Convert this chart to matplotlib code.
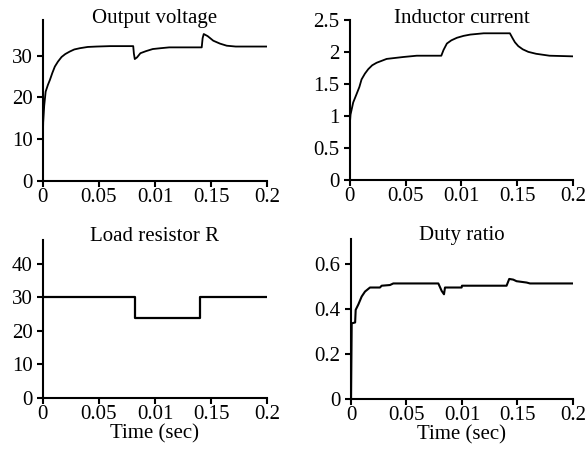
import matplotlib
matplotlib.use("Agg")
import matplotlib.pyplot as plt

plt.rcParams["font.family"] = ["Liberation Serif", "DejaVu Serif"]
plt.rcParams["font.size"] = 15

# x axis ticks (labels as printed in the original, typo included)
x_ticks = [0, 0.05, 0.1, 0.15, 0.2]
x_tick_labels = ["0", "0.05", "0.01", "0.15", "0.2"]

# Output voltage
t_v = [0.0, 0.0003, 0.0012, 0.0025, 0.0045, 0.0063, 0.0085, 0.0107, 0.0135, 0.0167,
       0.020, 0.024, 0.028, 0.033, 0.040, 0.048, 0.060, 0.0806, 0.0812, 0.082,
       0.084, 0.087, 0.092, 0.098, 0.105, 0.1127, 0.125, 0.1417, 0.1425, 0.1435,
       0.147, 0.152, 0.158, 0.164, 0.172, 0.185, 0.2]
v_out = [10.0, 14.0, 18.0, 21.4, 23.0, 24.2, 25.9, 27.4, 28.6, 29.7,
         30.4, 31.0, 31.5, 31.8, 32.1, 32.2, 32.3, 32.3, 30.5, 29.2,
         29.6, 30.6, 31.1, 31.6, 31.8, 32.0, 32.0, 32.0, 34.2, 35.2,
         34.7, 33.6, 32.9, 32.4, 32.2, 32.2, 32.2]

# Inductor current
t_i = [0.0, 0.0006, 0.003, 0.006, 0.0085, 0.0105, 0.0135, 0.0165, 0.020, 0.024,
       0.033, 0.048, 0.060, 0.082, 0.084, 0.087, 0.091, 0.096, 0.102, 0.108,
       0.120, 0.1435, 0.146, 0.148, 0.151, 0.155, 0.160, 0.167, 0.179, 0.2]
i_L = [0.88, 1.02, 1.21, 1.34, 1.45, 1.57, 1.66, 1.73, 1.79, 1.83,
       1.89, 1.92, 1.94, 1.94, 2.03, 2.13, 2.18, 2.22, 2.25, 2.27,
       2.29, 2.29, 2.21, 2.15, 2.09, 2.04, 2.00, 1.97, 1.94, 1.93]

# Load resistor R
t_r = [0.0, 0.0821, 0.0821, 0.140, 0.140, 0.2]
r_load = [30, 30, 24, 24, 30, 30]

# Duty ratio
t_d = [0.0, 0.0, 0.0006, 0.0037, 0.0042, 0.0066, 0.0096, 0.0126, 0.0171, 0.0261,
       0.0276, 0.0351, 0.0381, 0.0787, 0.0817, 0.0838, 0.0847, 0.0997, 0.1000,
       0.1402, 0.1426, 0.1462, 0.1492, 0.1583, 0.1613, 0.2]
duty = [0.0, 0.0, 0.336, 0.340, 0.396, 0.42, 0.455, 0.477, 0.495, 0.495,
        0.503, 0.506, 0.513, 0.513, 0.48, 0.465, 0.495, 0.495, 0.503,
        0.503, 0.533, 0.530, 0.523, 0.517, 0.513, 0.513]

fig = plt.figure(figsize=(5.87, 4.51), dpi=100)
ax1 = fig.add_axes([0.073, 0.599, 0.382, 0.357])
ax2 = fig.add_axes([0.596, 0.601, 0.380, 0.355])
ax3 = fig.add_axes([0.073, 0.1175, 0.382, 0.351])
ax4 = fig.add_axes([0.598, 0.115, 0.378, 0.355])

ax1.plot(t_v, v_out, color="black", lw=1.3)
ax1.set_ylim(0, 38.6)
ax1.set_yticks([0, 10, 20, 30])

ax2.plot(t_i, i_L, color="black", lw=1.3)
ax2.set_ylim(0, 2.5)
ax2.set_yticks([0, 0.5, 1, 1.5, 2, 2.5])
ax2.set_yticklabels(["0", "0.5", "1", "1.5", "2", "2.5"])

ax3.plot(t_r, r_load, color="black", lw=1.6)
ax3.set_ylim(0, 47.2)
ax3.set_yticks([0, 10, 20, 30, 40])
ax3.set_xlabel("Time (sec)", labelpad=0)

ax4.plot(t_d, duty, color="black", lw=1.5)
ax4.set_ylim(0, 0.71)
ax4.set_yticks([0, 0.2, 0.4, 0.6])
ax4.set_yticklabels(["0", "0.2", "0.4", "0.6"])
ax4.set_xlabel("Time (sec)", labelpad=0)

titles = ["Output voltage", "Inductor current", "Load resistor R", "Duty ratio"]
title_y = [1.01, 1.01, 1.02, 1.02]
for ax, title, ty in zip([ax1, ax2, ax3, ax4], titles, title_y):
    ax.text(0.5, ty, title, transform=ax.transAxes, ha="center", va="center")
    ax.set_xlim(0, 0.2)
    ax.set_xticks(x_ticks)
    ax.set_xticklabels(x_tick_labels)
    ax.spines["top"].set_visible(False)
    ax.spines["right"].set_visible(False)
    ax.spines["left"].set_linewidth(1.5)
    ax.spines["bottom"].set_linewidth(1.5)
    ax.tick_params(direction="out", length=4, width=1.5)
    ax.tick_params(axis="x", pad=1)
    ax.tick_params(axis="y", pad=3.5)

fig.savefig("out.png", dpi=100)
